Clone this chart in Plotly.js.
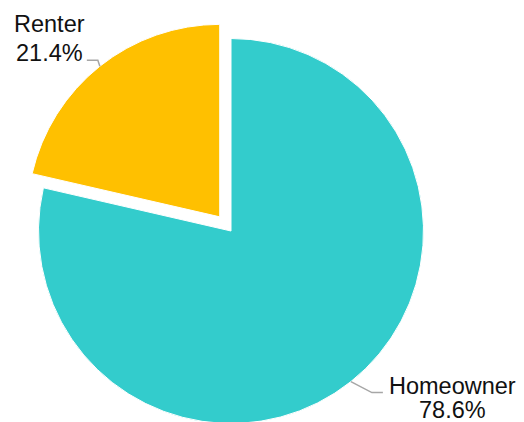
<!DOCTYPE html>
<html>
<head>
<meta charset="utf-8">
<script src="https://cdn.plot.ly/plotly-3.0.1.min.js"></script>
<style>
html, body { margin: 0; padding: 0; overflow: hidden; background: #fff; }
#chart { width: 524px; height: 462px; }
</style>
</head>
<body>
<div id="chart"></div>
<script>
// Data (drawn clockwise from 12 o'clock)
const categories = ["Homeowner", "Renter"];
const values = [78.6, 21.4];
const valueLabels = ["78.6%", "21.4%"];
const colors = ["#33CCCC", "#FFC000"];
const pulls = [0, 0.094];

// Geometry (layout)
const W = 524, H = 462;
const cx = 231, cy = 231, r = 192.5;
const maxPull = Math.max.apply(null, pulls);
const box = 2 * r * (1 + maxPull);
const domainX = [(cx - box / 2) / W, (cx + box / 2) / W];

const px = x => x / W;
const py = y => 1 - y / H;

// slice mid angles, measured clockwise from 12 o'clock
const total = values.reduce((a, b) => a + b, 0);
let acc = 0;
const mids = values.map(v => {
  const start = acc;
  acc += v / total * 360;
  return (start + acc) / 2 * Math.PI / 180;
});
function midPoint(i) {
  const a = mids[i];
  const dx = Math.sin(a), dy = -Math.cos(a);
  const off = pulls[i] * r;
  return [cx + dx * (r + off), cy + dy * (r + off)];
}

const lineColor = "#a6a6a6";
const shapes = [];
const annotations = [];
const font = { family: "Liberation Sans, Arial, sans-serif", size: 23.5, color: "#111111" };

function addLine(text, x, baseline, anchor) {
  annotations.push({
    xref: "paper", yref: "paper", x: px(x), y: py(baseline - 7),
    xanchor: anchor, yanchor: "middle", showarrow: false,
    text: text, font: font
  });
}

const iR = categories.indexOf("Renter");
const iH = categories.indexOf("Homeowner");

// Renter label (upper left)
{
  const [mx, my] = midPoint(iR);
  const ex = mx - 13, ey = my - 6;
  shapes.push({
    type: "path", xref: "paper", yref: "paper",
    path: `M ${px(mx)} ${py(my)} L ${px(mx - 2)} ${py(ey)} L ${px(ex)} ${py(ey)}`,
    line: { color: lineColor, width: 1.5 }
  });
  const centerX = ex - 37;
  addLine(categories[iR], centerX, ey - 29, "center");
  addLine(valueLabels[iR], centerX, ey, "center");
}
// Homeowner label (lower right)
{
  const [mx, my] = midPoint(iH);
  const ex = mx + 32, ey = my + 11;
  shapes.push({
    type: "path", xref: "paper", yref: "paper",
    path: `M ${px(mx)} ${py(my)} L ${px(mx + 21)} ${py(ey)} L ${px(ex)} ${py(ey)}`,
    line: { color: lineColor, width: 1.5 }
  });
  const centerX = ex + 70;
  addLine(categories[iH], centerX, ey, "center");
  addLine(valueLabels[iH], centerX, ey + 24, "center");
}

const trace = {
  type: "pie",
  labels: categories,
  values: values,
  sort: false,
  direction: "clockwise",
  rotation: 0,
  pull: pulls,
  textinfo: "none",
  hoverinfo: "none",
  marker: { colors: colors, line: { color: "#ffffff", width: 1 } },
  domain: { x: domainX, y: [0, 1] },
  showlegend: false
};

Plotly.newPlot("chart", [trace], {
  width: W, height: H,
  margin: { l: 0, r: 0, t: 0, b: 0 },
  paper_bgcolor: "#ffffff",
  showlegend: false,
  shapes: shapes,
  annotations: annotations
}, { displayModeBar: false, staticPlot: true });
</script>
</body>
</html>
